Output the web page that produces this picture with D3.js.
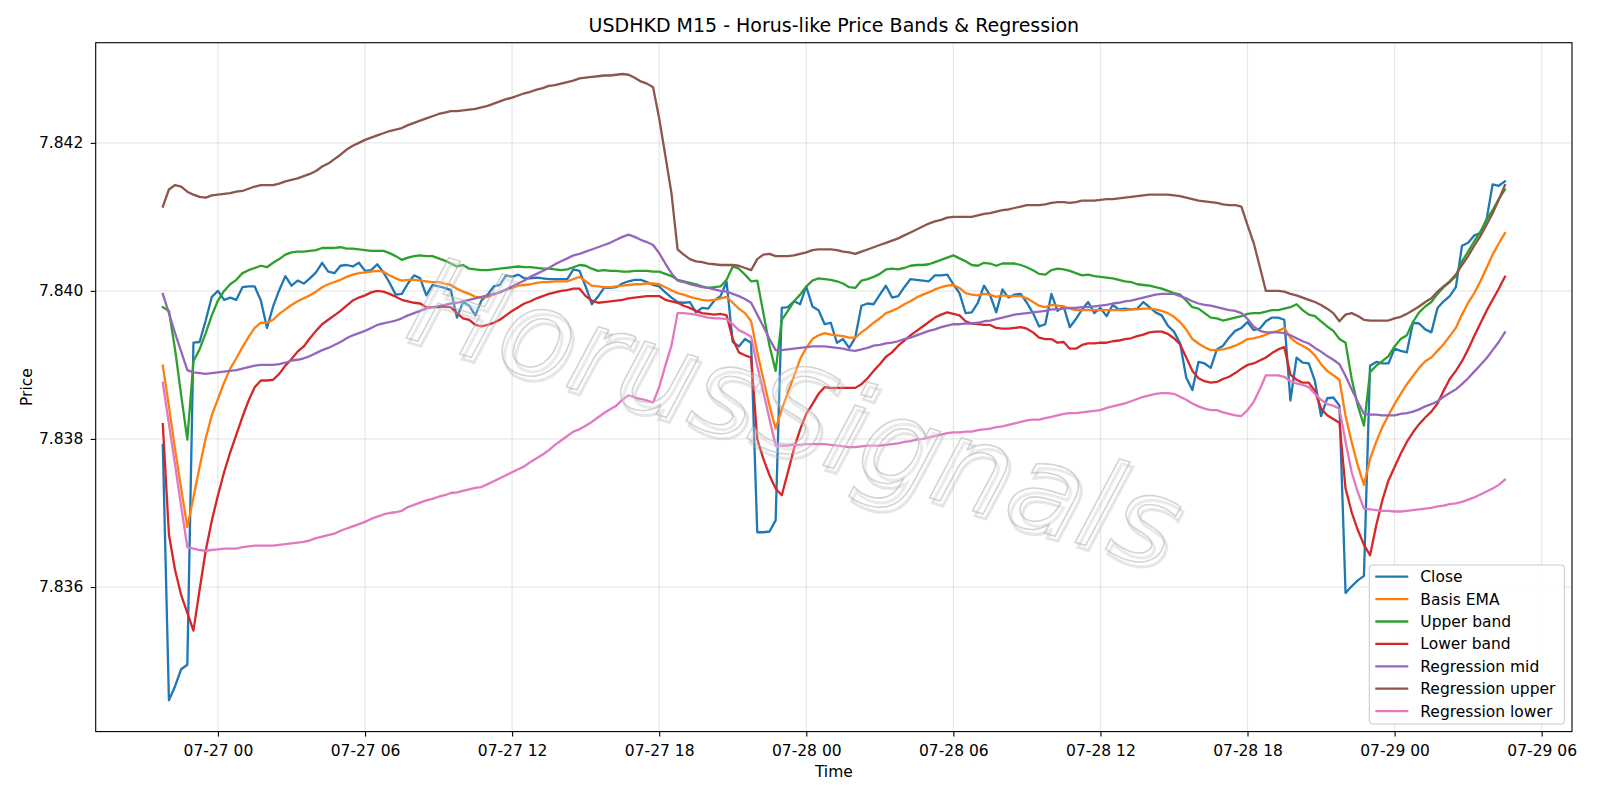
<!DOCTYPE html>
<html>
<head>
<meta charset="utf-8">
<script src="https://cdn.jsdelivr.net/npm/d3@7"></script>
<style>
  body { margin: 0; background: #fff; }
  svg { display: block; font-family: "DejaVu Sans", sans-serif; }
</style>
</head>
<body>
<svg id="chart" width="1600" height="800"></svg>
<script>
// 15-minute bars starting 07-26 21:45
const startTime = new Date(2025, 6, 26, 21, 45);
const stepMinutes = 15;

const close = [
  7.83792,7.83447,7.83466,7.83489,7.83495,7.83930,7.83931,7.83960,7.83992,7.84000,
  7.83988,7.83991,7.83988,7.84005,7.84006,7.84006,7.83987,7.83950,7.83979,7.84001,
  7.84020,7.84007,7.84014,7.84010,7.84017,7.84025,7.84038,7.84026,7.84024,7.84034,
  7.84035,7.84033,7.84038,7.84027,7.84028,7.84036,7.84025,7.84011,7.83995,7.83996,
  7.84010,7.84021,7.84017,7.83994,7.84008,7.84006,7.84004,7.84001,7.83964,7.83985,
  7.83980,7.83967,7.83987,7.83995,7.84006,7.84008,7.84021,7.84019,7.84022,7.84017,
  7.84017,7.84018,7.84017,7.84016,7.84016,7.84016,7.84016,7.84029,7.84027,7.84006,
  7.83982,7.83992,7.84004,7.84004,7.84005,7.84010,7.84013,7.84015,7.84015,7.84012,
  7.84008,7.84006,7.83998,7.83991,7.83985,7.83984,7.83985,7.83971,7.83977,7.83976,
  7.83987,7.83993,7.84012,7.83931,7.83925,7.83935,7.83930,7.83674,7.83674,7.83675,
  7.83690,7.83977,7.83978,7.83986,7.83982,7.84006,7.83979,7.83974,7.83955,7.83957,
  7.83930,7.83935,7.83923,7.83937,7.83980,7.83983,7.83982,7.83995,7.84007,7.83991,
  7.83993,7.84005,7.84016,7.84015,7.84014,7.84013,7.84021,7.84021,7.84022,7.84009,
  7.83997,7.83970,7.83971,7.83984,7.84007,7.83994,7.83971,7.84002,7.83991,7.83995,
  7.83996,7.83984,7.83970,7.83952,7.83955,7.83996,7.83973,7.83979,7.83951,7.83962,
  7.83975,7.83985,7.83970,7.83977,7.83966,7.83981,7.83975,7.83976,7.83975,7.83976,
  7.83985,7.83978,7.83971,7.83967,7.83953,7.83945,7.83929,7.83883,7.83866,7.83904,
  7.83902,7.83896,7.83921,7.83926,7.83937,7.83946,7.83950,7.83958,7.83947,7.83949,
  7.83959,7.83964,7.83964,7.83961,7.83852,7.83910,7.83903,7.83902,7.83878,7.83831,
  7.83855,7.83856,7.83845,7.83592,7.83601,7.83609,7.83615,7.83899,7.83904,7.83902,
  7.83902,7.83922,7.83919,7.83917,7.83957,7.83956,7.83948,7.83944,7.83977,7.83986,
  7.83993,7.84005,7.84061,7.84065,7.84075,7.84078,7.84096,7.84144,7.84142,7.84148
];

const basisEma = [
  7.83899,7.83844,7.83786,7.83733,7.83681,7.83721,7.83762,7.83801,7.83832,7.83854,
  7.83876,7.83895,7.83909,7.83924,7.83938,7.83950,7.83957,7.83957,7.83961,7.83969,
  7.83975,7.83981,7.83986,7.83990,7.83994,7.83999,7.84005,7.84009,7.84012,7.84015,
  7.84019,7.84022,7.84024,7.84025,7.84026,7.84027,7.84026,7.84021,7.84017,7.84014,
  7.84015,7.84015,7.84014,7.84013,7.84012,7.84012,7.84010,7.84008,7.84003,7.83999,
  7.83996,7.83992,7.83991,7.83992,7.83995,7.83998,7.84002,7.84004,7.84007,7.84008,
  7.84009,7.84011,7.84012,7.84012,7.84013,7.84013,7.84013,7.84016,7.84019,7.84013,
  7.84007,7.84006,7.84005,7.84005,7.84006,7.84007,7.84008,7.84009,7.84009,7.84010,
  7.84010,7.84009,7.84005,7.84001,7.83997,7.83995,7.83992,7.83990,7.83988,7.83987,
  7.83988,7.83990,7.83992,7.83984,7.83976,7.83970,7.83959,7.83917,7.83881,7.83845,
  7.83814,7.83840,7.83863,7.83885,7.83908,7.83923,7.83935,7.83940,7.83943,7.83941,
  7.83940,7.83939,7.83937,7.83937,7.83944,7.83950,7.83957,7.83963,7.83970,7.83973,
  7.83977,7.83982,7.83986,7.83991,7.83995,7.83998,7.84002,7.84005,7.84007,7.84008,
  7.84004,7.83997,7.83995,7.83994,7.83996,7.83995,7.83992,7.83994,7.83993,7.83993,
  7.83993,7.83990,7.83985,7.83980,7.83978,7.83981,7.83980,7.83979,7.83976,7.83974,
  7.83974,7.83974,7.83974,7.83974,7.83974,7.83974,7.83974,7.83974,7.83975,7.83975,
  7.83976,7.83976,7.83975,7.83973,7.83970,7.83965,7.83958,7.83948,7.83935,7.83929,
  7.83924,7.83920,7.83920,7.83921,7.83923,7.83926,7.83930,7.83935,7.83936,7.83938,
  7.83941,7.83944,7.83946,7.83950,7.83937,7.83930,7.83926,7.83921,7.83913,7.83901,
  7.83892,7.83886,7.83880,7.83831,7.83796,7.83764,7.83738,7.83773,7.83796,7.83816,
  7.83832,7.83847,7.83861,7.83874,7.83885,7.83896,7.83905,7.83910,7.83919,7.83928,
  7.83939,7.83950,7.83968,7.83984,7.83997,7.84013,7.84031,7.84049,7.84064,7.84078
];

const upperBand = [
  7.83978,7.83973,7.83921,7.83859,7.83799,7.83905,7.83921,7.83943,7.83967,7.83987,
  7.84000,7.84009,7.84015,7.84024,7.84028,7.84031,7.84034,7.84032,7.84038,7.84043,
  7.84049,7.84052,7.84053,7.84053,7.84054,7.84055,7.84058,7.84058,7.84058,7.84059,
  7.84057,7.84057,7.84056,7.84055,7.84054,7.84054,7.84054,7.84051,7.84047,7.84042,
  7.84045,7.84047,7.84048,7.84047,7.84047,7.84044,7.84041,7.84037,7.84033,7.84035,
  7.84030,7.84029,7.84028,7.84028,7.84029,7.84030,7.84031,7.84032,7.84033,7.84032,
  7.84032,7.84031,7.84030,7.84030,7.84029,7.84028,7.84029,7.84032,7.84035,7.84034,
  7.84030,7.84027,7.84028,7.84027,7.84027,7.84026,7.84026,7.84027,7.84027,7.84027,
  7.84026,7.84026,7.84023,7.84020,7.84015,7.84013,7.84011,7.84009,7.84006,7.84004,
  7.84005,7.84006,7.84015,7.84033,7.84030,7.84022,7.84013,7.84014,7.83970,7.83926,
  7.83892,7.83961,7.83973,7.83986,7.83995,7.84006,7.84014,7.84017,7.84016,7.84015,
  7.84013,7.84010,7.84005,7.84004,7.84014,7.84016,7.84019,7.84023,7.84029,7.84030,
  7.84029,7.84031,7.84034,7.84035,7.84035,7.84036,7.84039,7.84042,7.84045,7.84048,
  7.84044,7.84040,7.84035,7.84034,7.84038,7.84037,7.84034,7.84037,7.84037,7.84037,
  7.84035,7.84032,7.84028,7.84023,7.84022,7.84028,7.84030,7.84029,7.84027,7.84024,
  7.84021,7.84022,7.84020,7.84019,7.84018,7.84017,7.84015,7.84013,7.84012,7.84009,
  7.84008,7.84007,7.84005,7.84003,7.84000,7.83997,7.83995,7.83987,7.83978,7.83976,
  7.83970,7.83964,7.83963,7.83960,7.83962,7.83964,7.83966,7.83969,7.83970,7.83970,
  7.83972,7.83974,7.83974,7.83976,7.83978,7.83982,7.83974,7.83968,7.83966,7.83959,
  7.83952,7.83946,7.83935,7.83930,7.83881,7.83845,7.83818,7.83890,7.83899,7.83905,
  7.83912,7.83925,7.83935,7.83940,7.83958,7.83971,7.83979,7.83985,7.83996,7.84005,
  7.84012,7.84020,7.84040,7.84053,7.84067,7.84080,7.84096,7.84109,7.84124,7.84137
];

const lowerBand = [
  7.83820,7.83671,7.83623,7.83589,7.83565,7.83541,7.83596,7.83649,7.83690,7.83724,
  7.83755,7.83782,7.83806,7.83830,7.83852,7.83870,7.83879,7.83879,7.83880,7.83888,
  7.83899,7.83908,7.83918,7.83925,7.83936,7.83946,7.83955,7.83961,7.83967,7.83973,
  7.83980,7.83987,7.83991,7.83994,7.83998,7.84000,7.83999,7.83996,7.83992,7.83988,
  7.83986,7.83984,7.83983,7.83978,7.83978,7.83978,7.83979,7.83978,7.83970,7.83963,
  7.83961,7.83954,7.83952,7.83954,7.83957,7.83961,7.83967,7.83973,7.83978,7.83983,
  7.83986,7.83990,7.83993,7.83996,7.83998,7.84000,7.84001,7.84003,7.84003,7.83993,
  7.83987,7.83984,7.83985,7.83986,7.83987,7.83988,7.83990,7.83991,7.83992,7.83993,
  7.83993,7.83993,7.83988,7.83986,7.83984,7.83980,7.83977,7.83973,7.83970,7.83969,
  7.83968,7.83969,7.83967,7.83935,7.83917,7.83913,7.83910,7.83800,7.83773,7.83751,
  7.83733,7.83724,7.83755,7.83787,7.83813,7.83834,7.83847,7.83861,7.83870,7.83869,
  7.83869,7.83869,7.83869,7.83869,7.83874,7.83882,7.83892,7.83901,7.83911,7.83917,
  7.83926,7.83933,7.83940,7.83946,7.83952,7.83958,7.83964,7.83968,7.83971,7.83969,
  7.83967,7.83959,7.83956,7.83955,7.83954,7.83954,7.83950,7.83949,7.83949,7.83950,
  7.83951,7.83949,7.83944,7.83937,7.83935,7.83935,7.83930,7.83931,7.83922,7.83922,
  7.83927,7.83929,7.83929,7.83930,7.83930,7.83932,7.83933,7.83935,7.83936,7.83939,
  7.83941,7.83944,7.83945,7.83945,7.83942,7.83936,7.83928,7.83910,7.83892,7.83882,
  7.83878,7.83876,7.83877,7.83881,7.83884,7.83889,7.83895,7.83900,7.83902,7.83906,
  7.83910,7.83916,7.83921,7.83924,7.83887,7.83880,7.83876,7.83876,7.83865,7.83841,
  7.83832,7.83827,7.83822,7.83733,7.83701,7.83677,7.83657,7.83643,7.83683,7.83717,
  7.83744,7.83762,7.83780,7.83796,7.83809,7.83820,7.83829,7.83837,7.83848,7.83865,
  7.83881,7.83892,7.83905,7.83921,7.83939,7.83956,7.83973,7.83988,7.84003,7.84019
];

const regMid = [
  7.83996,7.83970,7.83943,7.83918,7.83893,7.83890,7.83889,7.83888,7.83889,7.83890,
  7.83891,7.83892,7.83893,7.83895,7.83897,7.83899,7.83900,7.83900,7.83900,7.83901,
  7.83903,7.83906,7.83907,7.83909,7.83912,7.83916,7.83920,7.83923,7.83927,7.83931,
  7.83936,7.83940,7.83943,7.83946,7.83950,7.83954,7.83956,7.83958,7.83960,7.83963,
  7.83967,7.83970,7.83973,7.83976,7.83978,7.83979,7.83981,7.83983,7.83984,7.83986,
  7.83988,7.83990,7.83992,7.83994,7.83996,7.83998,7.84002,7.84006,7.84010,7.84014,
  7.84019,7.84023,7.84027,7.84031,7.84036,7.84040,7.84044,7.84048,7.84050,7.84053,
  7.84056,7.84059,7.84062,7.84065,7.84069,7.84073,7.84076,7.84073,7.84069,7.84066,
  7.84062,7.84051,7.84037,7.84024,7.84014,7.84012,7.84009,7.84007,7.84005,7.84004,
  7.84002,7.84000,7.83999,7.83996,7.83993,7.83989,7.83984,7.83968,7.83952,7.83935,
  7.83920,7.83920,7.83921,7.83922,7.83923,7.83924,7.83925,7.83925,7.83925,7.83924,
  7.83923,7.83922,7.83920,7.83919,7.83921,7.83923,7.83926,7.83927,7.83929,7.83930,
  7.83932,7.83935,7.83937,7.83940,7.83943,7.83946,7.83948,7.83951,7.83953,7.83955,
  7.83955,7.83956,7.83956,7.83957,7.83959,7.83960,7.83962,7.83964,7.83966,7.83968,
  7.83969,7.83970,7.83971,7.83972,7.83973,7.83975,7.83975,7.83976,7.83977,7.83977,
  7.83978,7.83978,7.83979,7.83980,7.83981,7.83983,7.83984,7.83986,7.83987,7.83989,
  7.83991,7.83993,7.83995,7.83996,7.83996,7.83996,7.83993,7.83990,7.83986,7.83983,
  7.83981,7.83980,7.83978,7.83976,7.83974,7.83973,7.83970,7.83962,7.83952,7.83946,
  7.83944,7.83944,7.83944,7.83943,7.83940,7.83936,7.83932,7.83929,7.83923,7.83918,
  7.83912,7.83907,7.83901,7.83885,7.83867,7.83850,7.83834,7.83833,7.83833,7.83832,
  7.83832,7.83832,7.83834,7.83835,7.83837,7.83840,7.83844,7.83847,7.83851,7.83857,
  7.83862,7.83867,7.83874,7.83882,7.83891,7.83900,7.83909,7.83920,7.83931,7.83944
];

const regUpper = [
  7.84114,7.84137,7.84143,7.84141,7.84134,7.84130,7.84127,7.84126,7.84129,7.84130,
  7.84131,7.84132,7.84134,7.84135,7.84138,7.84141,7.84143,7.84143,7.84143,7.84145,
  7.84148,7.84150,7.84152,7.84155,7.84158,7.84162,7.84168,7.84172,7.84178,7.84184,
  7.84191,7.84196,7.84200,7.84204,7.84207,7.84210,7.84213,7.84216,7.84218,7.84220,
  7.84224,7.84227,7.84230,7.84233,7.84236,7.84239,7.84241,7.84243,7.84243,7.84244,
  7.84245,7.84246,7.84248,7.84250,7.84253,7.84256,7.84259,7.84261,7.84264,7.84267,
  7.84269,7.84272,7.84274,7.84277,7.84278,7.84280,7.84282,7.84284,7.84287,7.84288,
  7.84289,7.84290,7.84291,7.84291,7.84292,7.84293,7.84292,7.84288,7.84283,7.84280,
  7.84275,7.84233,7.84183,7.84132,7.84056,7.84049,7.84043,7.84040,7.84039,7.84037,
  7.84036,7.84035,7.84035,7.84035,7.84034,7.84031,7.84028,7.84043,7.84049,7.84050,
  7.84047,7.84047,7.84047,7.84048,7.84050,7.84052,7.84055,7.84056,7.84056,7.84056,
  7.84055,7.84053,7.84052,7.84050,7.84053,7.84056,7.84059,7.84062,7.84065,7.84068,
  7.84071,7.84075,7.84079,7.84083,7.84087,7.84091,7.84094,7.84096,7.84099,7.84100,
  7.84100,7.84100,7.84100,7.84102,7.84104,7.84105,7.84107,7.84109,7.84110,7.84112,
  7.84114,7.84116,7.84116,7.84116,7.84117,7.84119,7.84120,7.84120,7.84119,7.84120,
  7.84122,7.84122,7.84122,7.84123,7.84124,7.84124,7.84125,7.84126,7.84127,7.84128,
  7.84129,7.84130,7.84130,7.84130,7.84130,7.84129,7.84128,7.84126,7.84124,7.84122,
  7.84121,7.84120,7.84119,7.84117,7.84116,7.84116,7.84114,7.84089,7.84065,7.84033,
  7.84000,7.84000,7.84000,7.83999,7.83996,7.83994,7.83991,7.83988,7.83985,7.83981,
  7.83976,7.83970,7.83959,7.83968,7.83970,7.83966,7.83961,7.83960,7.83960,7.83960,
  7.83960,7.83963,7.83965,7.83969,7.83974,7.83979,7.83985,7.83990,7.83999,7.84006,
  7.84013,7.84022,7.84035,7.84047,7.84061,7.84074,7.84089,7.84105,7.84123,7.84143
];

const regLower = [
  7.83876,7.83820,7.83765,7.83709,7.83654,7.83652,7.83650,7.83649,7.83650,7.83651,
  7.83652,7.83652,7.83652,7.83654,7.83655,7.83656,7.83656,7.83656,7.83656,7.83657,
  7.83658,7.83659,7.83660,7.83661,7.83663,7.83666,7.83668,7.83670,7.83672,7.83676,
  7.83679,7.83682,7.83685,7.83688,7.83692,7.83695,7.83698,7.83700,7.83701,7.83703,
  7.83708,7.83711,7.83714,7.83717,7.83719,7.83722,7.83724,7.83727,7.83728,7.83730,
  7.83732,7.83734,7.83735,7.83739,7.83743,7.83747,7.83751,7.83755,7.83759,7.83763,
  7.83769,7.83774,7.83779,7.83785,7.83792,7.83798,7.83804,7.83810,7.83813,7.83818,
  7.83823,7.83829,7.83835,7.83840,7.83845,7.83853,7.83859,7.83856,7.83854,7.83852,
  7.83849,7.83870,7.83899,7.83926,7.83970,7.83970,7.83969,7.83968,7.83966,7.83964,
  7.83963,7.83963,7.83962,7.83955,7.83947,7.83943,7.83938,7.83899,7.83863,7.83827,
  7.83791,7.83791,7.83791,7.83792,7.83792,7.83793,7.83793,7.83793,7.83793,7.83792,
  7.83791,7.83790,7.83789,7.83789,7.83790,7.83791,7.83791,7.83791,7.83792,7.83793,
  7.83794,7.83796,7.83797,7.83799,7.83800,7.83802,7.83804,7.83806,7.83808,7.83809,
  7.83809,7.83810,7.83810,7.83812,7.83813,7.83814,7.83816,7.83817,7.83819,7.83821,
  7.83823,7.83825,7.83826,7.83826,7.83828,7.83830,7.83832,7.83834,7.83835,7.83835,
  7.83836,7.83837,7.83838,7.83839,7.83842,7.83844,7.83846,7.83848,7.83851,7.83854,
  7.83857,7.83859,7.83861,7.83862,7.83862,7.83861,7.83857,7.83853,7.83848,7.83844,
  7.83841,7.83839,7.83839,7.83836,7.83834,7.83832,7.83831,7.83839,7.83850,7.83867,
  7.83886,7.83886,7.83886,7.83884,7.83878,7.83875,7.83873,7.83870,7.83861,7.83853,
  7.83847,7.83845,7.83841,7.83796,7.83755,7.83728,7.83706,7.83705,7.83704,7.83703,
  7.83703,7.83702,7.83702,7.83703,7.83704,7.83705,7.83706,7.83707,7.83709,7.83710,
  7.83712,7.83713,7.83715,7.83718,7.83721,7.83725,7.83729,7.83733,7.83738,7.83745
];

const seriesNames = ["Close", "Basis EMA", "Upper band", "Lower band",
  "Regression mid", "Regression upper", "Regression lower"];
const seriesValues = [close, basisEma, upperBand, lowerBand, regMid, regUpper, regLower];
const seriesColors = ["#1f77b4", "#ff7f0e", "#2ca02c", "#d62728", "#9467bd", "#8c564b", "#e377c2"];

const titleText = "USDHKD M15 - Horus-like Price Bands & Regression";
const watermarkText = "HorusSignals";

const times = close.map((_, i) => d3.timeMinute.offset(startTime, i * stepMinutes));

const svg = d3.select("#chart");
const margin = { top: 42.7, right: 28, bottom: 68.4, left: 95.7 };
const width = 1600 - margin.left - margin.right;
const height = 800 - margin.top - margin.bottom;

// matplotlib-like 5% padding on both axes
const t0 = times[0], t1 = times[times.length - 1];
const tPad = (t1 - t0) * 0.05;
const x = d3.scaleTime()
  .domain([new Date(+t0 - tPad), new Date(+t1 + tPad)])
  .range([0, width]);

const allVals = seriesValues.flat();
const vMin = d3.min(allVals), vMax = d3.max(allVals);
const vPad = (vMax - vMin) * 0.05;
const y = d3.scaleLinear()
  .domain([vMin - vPad, vMax + vPad])
  .range([height, 0]);

const g = svg.append("g")
  .attr("transform", `translate(${margin.left},${margin.top})`);

const xTicks = x.ticks(d3.timeHour.every(6));
const yTicks = [7.836, 7.838, 7.840, 7.842];

// grid
g.append("g").selectAll("line")
  .data(xTicks)
  .join("line")
  .attr("x1", d => x(d)).attr("x2", d => x(d))
  .attr("y1", 0).attr("y2", height)
  .attr("stroke", "#b0b0b0").attr("stroke-opacity", 0.3).attr("stroke-width", 1.2);
g.append("g").selectAll("line")
  .data(yTicks)
  .join("line")
  .attr("x1", 0).attr("x2", width)
  .attr("y1", d => y(d)).attr("y2", d => y(d))
  .attr("stroke", "#b0b0b0").attr("stroke-opacity", 0.3).attr("stroke-width", 1.2);

// series
const line = d3.line()
  .x((d, i) => x(times[i]))
  .y(d => y(d));

g.append("g").selectAll("path")
  .data(seriesValues)
  .join("path")
  .attr("d", d => line(d))
  .attr("fill", "none")
  .attr("stroke", (d, i) => seriesColors[i])
  .attr("stroke-width", 2.3)
  .attr("stroke-linejoin", "round")
  .attr("stroke-linecap", "square");

// watermark
const wm = g.append("g")
  .attr("transform", `translate(${796 - margin.left},${413 - margin.top}) rotate(17)`)
  .style("font-size", "122px")
  .style("font-style", "italic")
  .attr("text-anchor", "middle")
  .attr("dominant-baseline", "central");
wm.append("text")
  .attr("x", 4).attr("y", 4)
  .attr("fill", "none")
  .attr("stroke", "#b4b4b4")
  .attr("stroke-opacity", 0.35)
  .attr("stroke-width", 3)
  .text(watermarkText);
wm.append("text")
  .attr("fill", "#ffffff")
  .attr("fill-opacity", 0.2)
  .attr("stroke", "#b0b0b0")
  .attr("stroke-opacity", 0.55)
  .attr("stroke-width", 1.6)
  .text(watermarkText);

// axes
const xAxis = g.append("g")
  .attr("transform", `translate(0,${height})`)
  .call(d3.axisBottom(x).tickValues(xTicks).tickFormat(d3.timeFormat("%m-%d %H"))
    .tickSize(5).tickPadding(8.5));
const yAxis = g.append("g")
  .call(d3.axisLeft(y).tickValues(yTicks).tickFormat(d3.format(".3f"))
    .tickSize(5).tickPadding(7.4));
[xAxis, yAxis].forEach(a => {
  a.select(".domain").remove();
  a.selectAll(".tick line").attr("stroke", "#000").attr("stroke-width", 1.1);
  a.selectAll(".tick text")
    .style("font-family", "DejaVu Sans, sans-serif")
    .style("font-size", "15.5px")
    .attr("fill", "#000");
});

g.append("rect")
  .attr("width", width).attr("height", height)
  .attr("fill", "none").attr("stroke", "#000").attr("stroke-width", 1.1);

// labels
svg.append("text")
  .attr("x", margin.left + width / 2).attr("y", 32)
  .attr("text-anchor", "middle")
  .style("font-size", "19px")
  .text(titleText);
svg.append("text")
  .attr("x", margin.left + width / 2).attr("y", 776.5)
  .attr("text-anchor", "middle")
  .style("font-size", "15.5px")
  .text("Time");
svg.append("text")
  .attr("transform", `translate(32,${margin.top + height / 2}) rotate(-90)`)
  .attr("text-anchor", "middle")
  .style("font-size", "15.5px")
  .text("Price");

// legend
const legend = svg.append("g").attr("transform", "translate(1369.3,565)");
legend.append("rect")
  .attr("width", 195).attr("height", 159)
  .attr("rx", 3.5)
  .attr("fill", "#fff").attr("fill-opacity", 0.8)
  .attr("stroke", "#cccccc").attr("stroke-width", 1.1);
const rows = legend.selectAll("g.row")
  .data(seriesNames)
  .join("g")
  .attr("class", "row")
  .attr("transform", (d, i) => `translate(0,${11.7 + i * 22.4})`);
rows.append("line")
  .attr("x1", 6).attr("x2", 39)
  .attr("stroke", (d, i) => seriesColors[i])
  .attr("stroke-width", 2.3);
rows.append("text")
  .attr("x", 51).attr("dy", "0.35em")
  .style("font-size", "15.5px")
  .text(d => d);
</script>
</body>
</html>
